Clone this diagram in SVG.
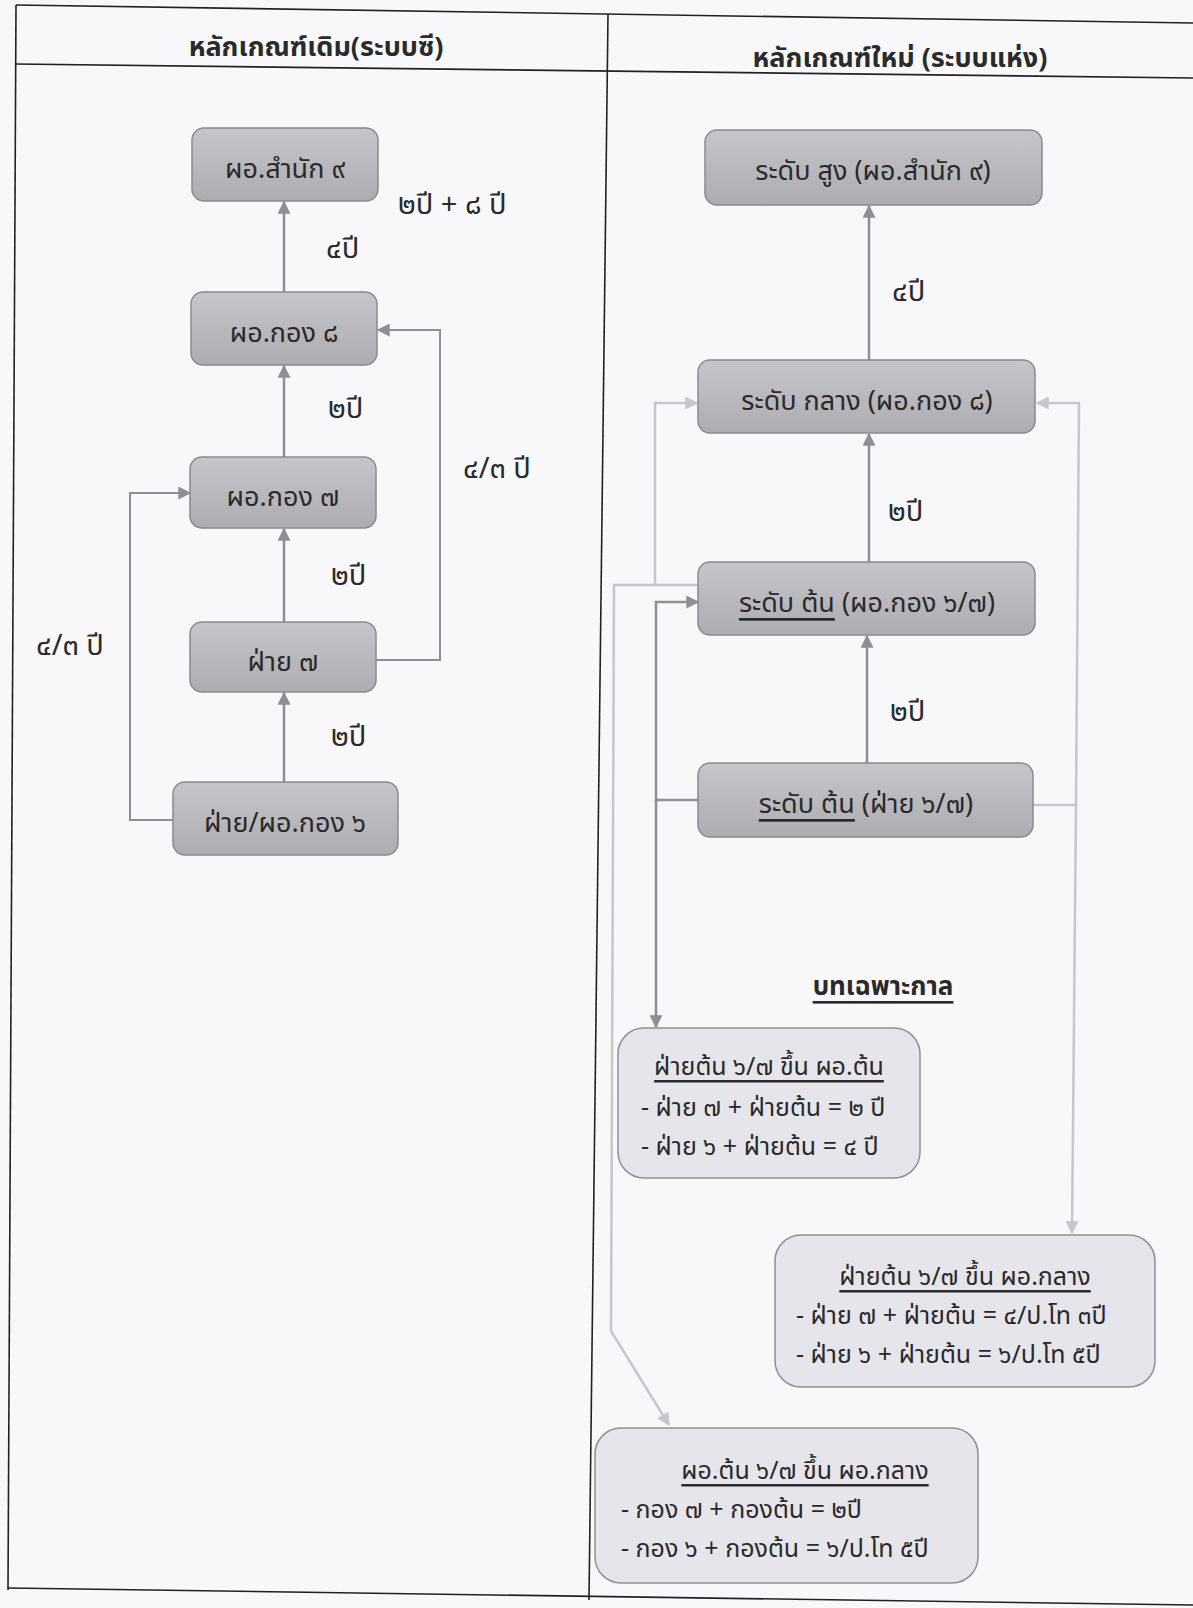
<svg xmlns="http://www.w3.org/2000/svg" width="1193" height="1608" viewBox="0 0 1193 1608">
<defs>
<linearGradient id="g" x1="0" y1="0" x2="0" y2="1">
<stop offset="0" stop-color="#c6c6ca"/>
<stop offset="1" stop-color="#acacb1"/>
</linearGradient>
<marker id="ad" viewBox="0 0 10 10" refX="9" refY="5" markerWidth="14" markerHeight="13" markerUnits="userSpaceOnUse" orient="auto">
<path d="M0,0 L10,5 L0,10 z" fill="#8e8e93"/>
</marker>
<marker id="al" viewBox="0 0 10 10" refX="9" refY="5" markerWidth="14" markerHeight="13" markerUnits="userSpaceOnUse" orient="auto">
<path d="M0,0 L10,5 L0,10 z" fill="#c6c6cb"/>
</marker>
</defs>
<style>
text{font-family:"Noto Sans Thai","Noto Sans","DejaVu Sans",sans-serif;fill:#2a2a2a;}
.n rect{fill:url(#g);stroke:#8a8a8e;stroke-width:1.5;}
.b rect{fill:#e5e5eb;stroke:#909094;stroke-width:1.5;}
.t{font-size:27px;text-anchor:middle;dominant-baseline:central;}
.bt{font-size:25px;text-anchor:middle;dominant-baseline:central;}
.s{font-size:25px;dominant-baseline:central;}
.lb{font-size:29px;dominant-baseline:central;}
.h{font-size:27px;font-weight:bold;text-anchor:middle;dominant-baseline:central;}
.bh{font-size:26px;font-weight:bold;text-anchor:middle;dominant-baseline:central;}
.dk{fill:none;stroke:#8e8e93;stroke-width:2.5;}
.lt{fill:none;stroke:#c6c6cb;stroke-width:2.5;}
.grid{fill:none;stroke:#222;stroke-width:1.6;}
</style>
<rect x="0" y="0" width="1193" height="1608" fill="#f8f8fa"/>
<g id="table">
<line class="grid" x1="16" y1="5" x2="1193" y2="23"/>
<line class="grid" x1="15" y1="64" x2="1193" y2="78"/>
<line class="grid" x1="16" y1="5" x2="8" y2="1590"/>
<line class="grid" x1="608" y1="14" x2="589" y2="1600"/>
<line class="grid" x1="8" y1="1588" x2="1193" y2="1605"/>
<text class="h" x="316" y="47">หลักเกณฑ์เดิม(ระบบซี)</text>
<text class="h" x="900" y="58">หลักเกณฑ์ใหม่ (ระบบแห่ง)</text>
</g>
<g id="connectors">
<path class="dk" d="M284,292 V202" marker-end="url(#ad)"/>
<path class="dk" d="M284,457 V366" marker-end="url(#ad)"/>
<path class="dk" d="M284,622 V529" marker-end="url(#ad)"/>
<path class="dk" d="M284,782 V693" marker-end="url(#ad)"/>
<path class="dk" d="M375,660 H440 V330 H378" marker-end="url(#ad)" style="stroke-width:2"/>
<path class="dk" d="M173,820 H130 V493 H190" marker-end="url(#ad)" style="stroke-width:2"/>
<path class="dk" d="M869,360 V206" marker-end="url(#ad)"/>
<path class="dk" d="M869,562 V434" marker-end="url(#ad)"/>
<path class="dk" d="M867,763 V636" marker-end="url(#ad)"/>
<path class="dk" d="M698,800 H656 V602 H698" marker-end="url(#ad)"/>
<path class="dk" d="M656,800 V1027" marker-end="url(#ad)"/>
<path class="lt" d="M698,585 H655 V403 H697" marker-end="url(#al)"/>
<path class="lt" d="M655,585 H614 L611,1331 L669,1425" marker-end="url(#al)"/>
<path class="lt" d="M1033,805 H1076 L1079,403 H1037" marker-end="url(#al)"/>
<path class="lt" d="M1076,805 L1072,1233" marker-end="url(#al)"/>
</g>
<g id="labels">
<text class="lb" x="398" y="205">๒ปี + ๘ ปี</text>
<text class="lb" x="326" y="249">๔ปี</text>
<text class="lb" x="328" y="409">๒ปี</text>
<text class="lb" x="463" y="469">๔/๓ ปี</text>
<text class="lb" x="331" y="576">๒ปี</text>
<text class="lb" x="36" y="646">๔/๓ ปี</text>
<text class="lb" x="331" y="737">๒ปี</text>
<text class="lb" x="892" y="292">๔ปี</text>
<text class="lb" x="888" y="512">๒ปี</text>
<text class="lb" x="890" y="712">๒ปี</text>
<text class="bh" x="883" y="987" text-decoration="underline">บทเฉพาะกาล</text>
</g>
<g id="old9" class="n"><rect x="192" y="128" width="186" height="73" rx="12"/><text class="t" x="285" y="169">ผอ.สำนัก ๙</text></g>
<g id="old8" class="n"><rect x="191" y="292" width="186" height="73" rx="12"/><text class="t" x="284" y="333">ผอ.กอง ๘</text></g>
<g id="old7" class="n"><rect x="190" y="457" width="186" height="71" rx="12"/><text class="t" x="283" y="497">ผอ.กอง ๗</text></g>
<g id="oldf7" class="n"><rect x="190" y="622" width="186" height="70" rx="12"/><text class="t" x="283" y="662">ฝ่าย ๗</text></g>
<g id="old6" class="n"><rect x="173" y="782" width="225" height="73" rx="12"/><text class="t" x="285" y="823">ฝ่าย/ผอ.กอง ๖</text></g>
<g id="high" class="n"><rect x="705" y="130" width="337" height="75" rx="12"/><text class="t" x="873" y="171">ระดับ สูง (ผอ.สำนัก ๙)</text></g>
<g id="mid" class="n"><rect x="698" y="360" width="337" height="73" rx="12"/><text class="t" x="867" y="401">ระดับ กลาง (ผอ.กอง ๘)</text></g>
<g id="low1" class="n"><rect x="698" y="562" width="337" height="73" rx="12"/><text class="t" x="867" y="603"><tspan text-decoration="underline">ระดับ ต้น</tspan> (ผอ.กอง ๖/๗)</text></g>
<g id="low2" class="n"><rect x="698" y="763" width="335" height="74" rx="12"/><text class="t" x="866" y="804"><tspan text-decoration="underline">ระดับ ต้น</tspan> (ฝ่าย ๖/๗)</text></g>
<g id="box1" class="b"><rect x="618" y="1028" width="302" height="150" rx="26"/>
<text class="bt" x="769" y="1067" text-decoration="underline">ฝ่ายต้น ๖/๗ ขึ้น ผอ.ต้น</text>
<text class="s" x="641" y="1108">- ฝ่าย ๗ + ฝ่ายต้น = ๒ ปี</text>
<text class="s" x="641" y="1147">- ฝ่าย ๖ + ฝ่ายต้น = ๔ ปี</text></g>
<g id="box2" class="b"><rect x="775" y="1235" width="380" height="152" rx="26"/>
<text class="bt" x="965" y="1277" text-decoration="underline">ฝ่ายต้น ๖/๗ ขึ้น ผอ.กลาง</text>
<text class="s" x="796" y="1316">- ฝ่าย ๗ + ฝ่ายต้น = ๔/ป.โท ๓ปี</text>
<text class="s" x="796" y="1355">- ฝ่าย ๖ + ฝ่ายต้น = ๖/ป.โท ๕ปี</text></g>
<g id="box3" class="b"><rect x="595" y="1428" width="383" height="155" rx="26"/>
<text class="bt" x="805" y="1471" text-decoration="underline">ผอ.ต้น ๖/๗ ขึ้น ผอ.กลาง</text>
<text class="s" x="621" y="1510">- กอง ๗ + กองต้น = ๒ปี</text>
<text class="s" x="621" y="1549">- กอง ๖ + กองต้น = ๖/ป.โท ๕ปี</text></g>
</svg>
